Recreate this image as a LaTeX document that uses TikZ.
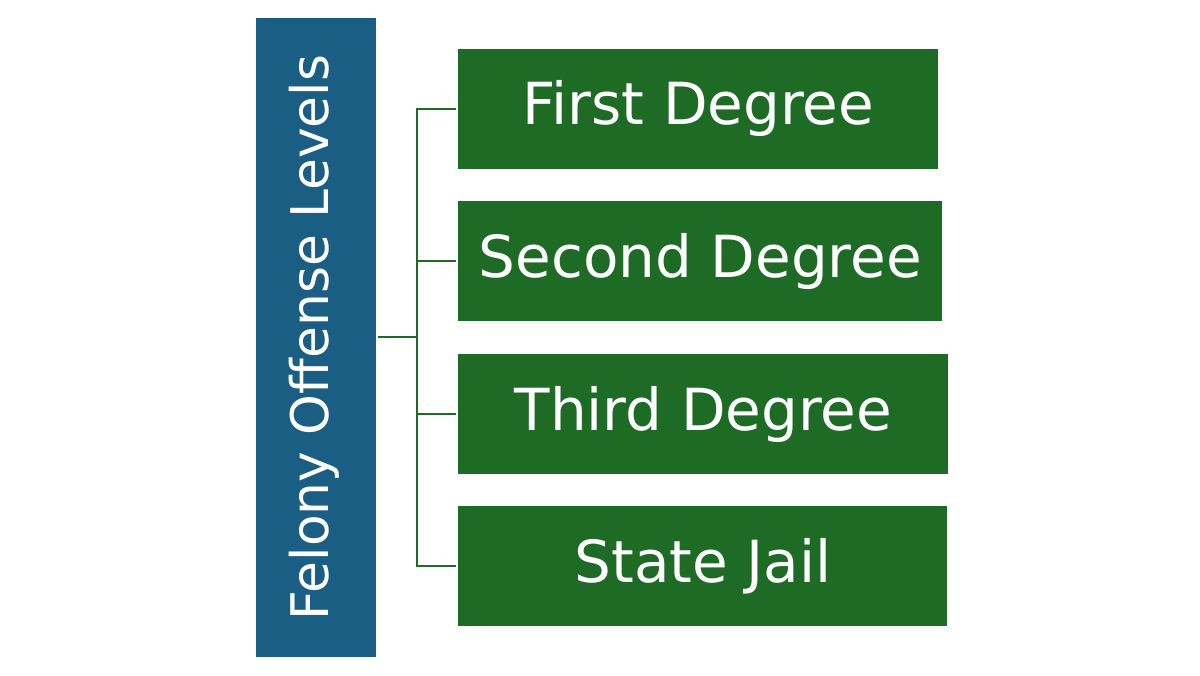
\documentclass[tikz,border=0pt]{standalone}
\usepackage{fontspec}
\setmainfont{DejaVu Sans}
\usetikzlibrary{positioning}
\definecolor{feltitle}{HTML}{1A5E84}
\definecolor{feldegree}{HTML}{1E6B26}
\begin{document}
\begin{tikzpicture}[every node/.style={inner sep=0pt,text=white,font=\fontsize{33}{40}\selectfont},leveltitle/.style={fill=feltitle,minimum width=2.4cm,minimum height=12.78cm},levelbox/.style={fill=feldegree,minimum height=2.4cm,anchor=west},link/.style={feldegree,line width=1.1pt}]
\useasboundingbox (0,0) rectangle (24,13.5);
\node[leveltitle] (title) at (6.32,6.75) {};
\node[rotate=90,font=\fontsize{29.5}{36}\selectfont] (titletext) at ([xshift=-1pt]title.center) {Felony Offense Levels};
\node[levelbox,minimum width=9.6cm] (first) at (9.16,11.32) {First Degree};
\node[levelbox,minimum width=9.68cm] (second) at (9.16,8.28) {Second Degree};
\node[levelbox,minimum width=9.8cm] (third) at (9.16,5.22) {Third Degree};
\node[levelbox,minimum width=9.78cm] (state) at (9.16,2.18) {State Jail};
\coordinate (spine) at (8.34,6.76);
% tree lines
\draw[link] ([xshift=1pt]title.east |- spine) -- (spine);
\draw[link] ([xshift=-1pt]first.west) -- (first.west -| spine) -- (state.west -| spine) -- ([xshift=-1pt]state.west);
\foreach \lvl in {second,third}
  \draw[link] (\lvl.west -| spine) -- ([xshift=-1pt]\lvl.west);
\end{tikzpicture}
\end{document}
